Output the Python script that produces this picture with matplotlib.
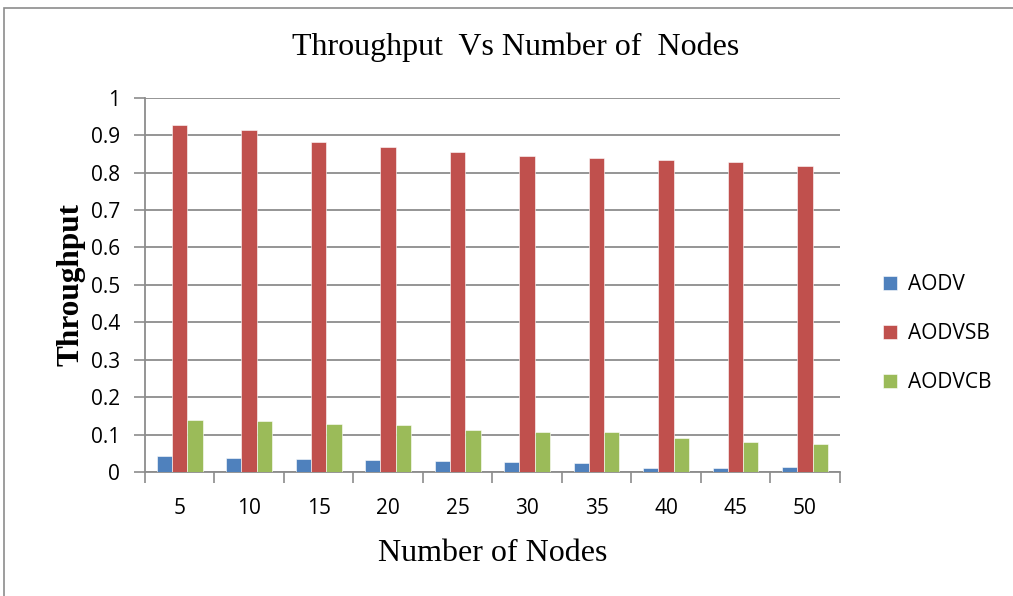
import numpy as np
import matplotlib
matplotlib.use("Agg")
import matplotlib.pyplot as plt
from matplotlib.patches import Rectangle

nodes = ["5", "10", "15", "20", "25", "30", "35", "40", "45", "50"]
aodv = [0.042, 0.037, 0.035, 0.032, 0.030, 0.026, 0.023, 0.011, 0.010, 0.013]
aodvsb = [0.928, 0.913, 0.882, 0.868, 0.856, 0.845, 0.840, 0.833, 0.829, 0.818]
aodvcb = [0.139, 0.136, 0.129, 0.125, 0.113, 0.107, 0.106, 0.090, 0.080, 0.075]

series = [("AODV", aodv, "#4f81bd"),
          ("AODVSB", aodvsb, "#c0504d"),
          ("AODVCB", aodvcb, "#9bbb59")]

fig = plt.figure(figsize=(10.13, 5.96), dpi=100)
ax = fig.add_axes([0.143, 0.208, 0.686, 0.628])

# outer frame like the pasted chart box
fig.patches.append(Rectangle((0.004, -0.01), 1.2, 0.997, transform=fig.transFigure,
                             fill=False, edgecolor="#8c8c8c", linewidth=1.2))

x = np.arange(len(nodes))
w = 0.22
for i, (name, vals, col) in enumerate(series):
    ax.bar(x + (i - 1) * w, vals, w, color=col, label=name,
           edgecolor="white", linewidth=0.4, zorder=3)

ax.set_xlim(-0.5, len(nodes) - 0.5)
ax.set_ylim(0, 1)
ax.set_yticks(np.arange(0, 1.01, 0.1))
ax.set_yticklabels(["0", "0.1", "0.2", "0.3", "0.4", "0.5", "0.6", "0.7", "0.8", "0.9", "1"])
ax.set_xticks(x)
ax.set_xticklabels(nodes)
ax.set_xticks(np.arange(-0.5, len(nodes)), minor=True)
ax.tick_params(axis="x", which="major", length=0, pad=19)
ax.tick_params(axis="x", which="minor", length=8, color="#8c8c8c", width=1.2)
ax.tick_params(axis="y", length=8, color="#8c8c8c", width=1.2, pad=10)
for lab in ax.get_xticklabels() + ax.get_yticklabels():
    lab.set_family("Open Sans")
    lab.set_fontsize(15)

ax.grid(axis="y", color="#8c8c8c", linewidth=1.3, zorder=0)
ax.set_axisbelow(True)
for s in ["top", "right"]:
    ax.spines[s].set_visible(False)
for s in ["left", "bottom"]:
    ax.spines[s].set_color("#8c8c8c")
    ax.spines[s].set_linewidth(1.3)

fig.text(516 / 1013, 1 - 47 / 596, "Throughput  Vs Number of  Nodes",
         family="Liberation Serif", fontsize=23, ha="center", va="center")
ax.set_xlabel("Number of Nodes", family="Liberation Serif", fontsize=23, labelpad=14)
ax.set_ylabel("Throughput", family="Liberation Serif", fontsize=22.5,
              fontweight="bold", labelpad=4)

leg = fig.legend(loc="center left", bbox_to_anchor=(0.853, 0.44), frameon=False,
                 prop={"family": "Open Sans", "size": 15}, handlelength=0.7,
                 handleheight=0.7, handletextpad=0.5, labelspacing=1.35)

fig.savefig("out.png", dpi=100)
